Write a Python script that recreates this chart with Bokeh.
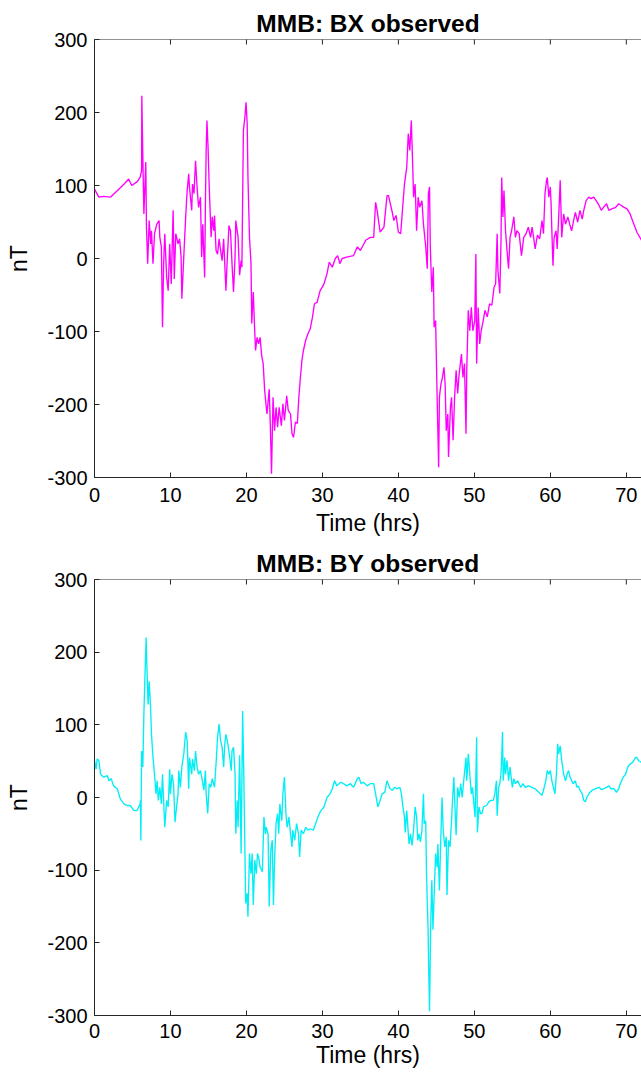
import math
from bokeh.plotting import figure
from bokeh.models import FixedTicker, Range1d, Span
from bokeh.layouts import column
from bokeh.embed import file_html
from bokeh.resources import INLINE

x_ticks = [0, 10, 20, 30, 40, 50, 60, 70]
y_ticks = [-300, -200, -100, 0, 100, 200, 300]
titles = ["MMB: BX observed", "MMB: BY observed"]
x_label = "Time (hrs)"
y_label = "nT"

bx_time = [
    0, 0.57, 1.2, 2.1, 2.5, 3.2, 3.9, 4.5, 4.9, 5.6,
    6.0, 6.2, 6.23, 6.36, 6.5, 6.75, 6.84, 7.0, 7.2, 7.4,
    7.5, 7.7, 7.9, 8.2, 8.5, 8.6, 8.8, 8.95, 9.1, 9.25,
    9.5, 9.7, 9.9, 10.1, 10.35, 10.5, 10.7, 11.0, 11.2, 11.4,
    11.5, 11.75, 12.0, 12.2, 12.4, 12.5, 12.8, 12.9, 13.1, 13.3,
    13.5, 13.7, 13.95, 14.1, 14.25, 14.5, 14.6, 14.7, 14.8, 14.95,
    15.1, 15.35, 15.5, 15.7, 15.8, 16.0, 16.2, 16.4, 16.6, 16.8,
    17.0, 17.3, 17.45, 17.7, 17.9, 18.1, 18.3, 18.5, 18.6, 18.9,
    19.1, 19.3, 19.4, 19.6, 19.8, 19.95, 20.1, 20.2, 20.4, 20.6,
    20.7, 20.9, 21.05, 21.2, 21.4, 21.6, 21.8, 22.0, 22.2, 22.4,
    22.7, 23.0, 23.15, 23.3, 23.5, 23.7, 23.9, 24.1, 24.3, 24.6,
    24.8, 25.0, 25.3, 25.5, 25.8, 26.0, 26.2, 26.45, 26.7, 26.9,
    27.1, 27.3, 27.5, 27.8, 28.1, 28.4, 28.7, 28.95, 29.3, 29.7,
    30.2, 30.6, 30.9, 31.3, 31.7, 32.0, 32.3, 32.6, 33.2, 34.1,
    34.6, 35.0, 35.7, 36.3, 36.75, 37.0, 37.2, 37.6, 38.1, 38.5,
    38.7, 39.2, 39.4, 39.7, 40.0, 40.3, 40.6, 40.8, 41.1, 41.3,
    41.5, 41.7, 41.85, 42.0, 42.2, 42.4, 42.6, 42.8, 43.1, 43.3,
    43.6, 43.8, 43.95, 44.1, 44.2, 44.4, 44.6, 44.7, 44.9, 45.1,
    45.3, 45.4, 45.6, 45.8, 46.0, 46.15, 46.3, 46.5, 46.6, 46.85,
    47.0, 47.2, 47.4, 47.6, 47.8, 48.0, 48.2, 48.3, 48.5, 48.7,
    48.9, 49.0, 49.2, 49.4, 49.6, 49.8, 50.05, 50.2, 50.3, 50.5,
    50.7, 50.9, 51.1, 51.4, 51.7, 52.0, 52.3, 52.6, 52.8, 53.0,
    53.1, 53.35, 53.5, 53.6, 53.75, 53.9, 54.1, 54.3, 54.5, 54.7,
    54.9, 55.2, 55.4, 55.6, 55.9, 56.2, 56.5, 56.8, 57.1, 57.4,
    57.6, 57.8, 58.0, 58.3, 58.6, 58.9, 59.1, 59.3, 59.5, 59.6,
    59.8, 60.0, 60.1, 60.2, 60.35, 60.5, 60.75, 60.9, 61.1, 61.3,
    61.5, 61.75, 62.0, 62.3, 62.55, 62.8, 63.1, 63.3, 63.6, 63.9,
    64.2, 64.4, 64.7, 65.05, 65.35, 65.7, 66.05, 66.4, 66.7, 67.0,
    67.4, 67.7, 68.1, 68.6, 69.0, 69.3, 69.7, 70.1, 70.5, 71.0,
    71.4, 72.0,
]
bx_nt = [
    95, 84, 85, 84, 88, 95, 102, 109, 100, 105,
    111, 120, 223, 139, 61, 132, 43, -7, 52, 20,
    38, -7, 34, 47, 52, 29, 16, -94, -7, 34,
    -26, -44, 20, -35, 66, -28, 34, 20, 27, 2,
    -55, 2, 57, 93, 116, 98, 66, 102, 89, 134,
    98, 70, 84, 2, 47, -26, 77, 148, 189, 152,
    98, 29, 57, 38, 59, 11, 6, 27, 11, -3,
    27, -44, -7, 45, 38, -7, -46, 2, 52, 29,
    -23, -3, -12, 175, 194, 214, 184, 111, 29, -7,
    -89, -46, -89, -126, -108, -117, -108, -133, -144, -181,
    -213, -179, -231, -295, -190, -236, -204, -231, -204, -229,
    -199, -222, -188, -208, -213, -240, -245, -224, -226, -190,
    -163, -140, -126, -112, -103, -96, -80, -62, -60, -44,
    -35, -21, -5, -12, 0, 4, -7, 0, 2, 4,
    16, 11, 25, 29, 29, 77, 66, 36, 43, 86,
    86, 63, 52, 59, 36, 34, 75, 102, 125, 171,
    148, 189, 139, 84, 102, 38, 84, 70, 79, 47,
    16, -14, 89, 98, 16, -46, -12, -94, -85, -190,
    -286, -190, -172, -163, -149, -172, -236, -213, -272, -204,
    -190, -249, -190, -153, -185, -158, -140, -131, -163, -144,
    -240, -153, -71, -99, -67, -99, -85, 6, -144, -67,
    -117, -99, -89, -71, -80, -62, -64, -39, -35, 34,
    -16, -48, 20, 111, 57, 93, 38, 11, -14, 29,
    38, 57, 29, 38, 34, 4, 29, 34, 43, 29,
    43, 29, 13, 32, 27, 52, 34, 89, 107, 111,
    84, 98, 75, 38, -10, 29, 38, 13, 57, 107,
    29, 61, 47, 57, 47, 38, 54, 63, 50, 66,
    54, 66, 79, 84, 82, 84, 79, 73, 66, 70,
    75, 66, 68, 70, 75, 73, 70, 68, 61, 47,
    36, 25,
]

by_time = [
    0, 0.2, 0.35, 0.57, 0.8, 1.2, 1.7, 1.9, 2.2, 2.5,
    3.0, 3.4, 3.9, 4.3, 4.7, 5.2, 5.6, 6.0, 6.05, 6.1,
    6.2, 6.36, 6.5, 6.65, 6.8, 6.9, 7.06, 7.2, 7.4, 7.5,
    7.7, 7.9, 8.1, 8.25, 8.4, 8.6, 8.8, 8.95, 9.1, 9.25,
    9.5, 9.7, 9.9, 10.0, 10.2, 10.4, 10.6, 10.8, 11.0, 11.1,
    11.3, 11.5, 11.75, 12.0, 12.2, 12.4, 12.5, 12.8, 12.9, 13.15,
    13.3, 13.5, 13.7, 13.95, 14.2, 14.4, 14.6, 14.7, 14.9, 15.1,
    15.3, 15.5, 15.8, 16.05, 16.2, 16.4, 16.6, 16.8, 17.0, 17.15,
    17.3, 17.55, 17.8, 18.0, 18.1, 18.3, 18.5, 18.6, 18.8, 18.9,
    19.1, 19.3, 19.5, 19.65, 19.9, 20.1, 20.2, 20.4, 20.6, 20.75,
    20.9, 21.1, 21.3, 21.45, 21.6, 21.8, 22.1, 22.3, 22.5, 22.6,
    22.85, 23.0, 23.2, 23.4, 23.55, 23.7, 23.9, 24.1, 24.25, 24.4,
    24.65, 24.8, 25.0, 25.2, 25.35, 25.6, 25.8, 26.0, 26.1, 26.35,
    26.6, 26.85, 27.0, 27.2, 27.5, 27.8, 28.1, 28.4, 28.8, 29.1,
    29.4, 29.8, 30.2, 30.6, 31.0, 31.3, 31.6, 31.9, 32.4, 32.8,
    33.2, 33.7, 34.1, 34.6, 34.8, 35.1, 35.4, 35.9, 36.3, 36.75,
    37.0, 37.3, 37.6, 37.85, 38.2, 38.5, 38.9, 39.2, 39.5, 39.8,
    40.2, 40.4, 40.6, 40.8, 40.9, 41.1, 41.4, 41.6, 41.8, 42.0,
    42.2, 42.4, 42.55, 42.7, 42.9, 43.1, 43.3, 43.4, 43.6, 43.7,
    43.9, 44.0, 44.1, 44.25, 44.4, 44.55, 44.7, 44.9, 45.1, 45.2,
    45.4, 45.6, 45.75, 45.9, 46.1, 46.3, 46.4, 46.6, 46.8, 47.0,
    47.1, 47.3, 47.5, 47.6, 47.8, 48.0, 48.2, 48.4, 48.6, 48.9,
    49.0, 49.2, 49.4, 49.6, 49.75, 49.9, 50.1, 50.3, 50.4, 50.6,
    50.8, 51.0, 51.2, 51.6, 51.9, 52.2, 52.5, 52.7, 52.9, 53.0,
    53.2, 53.35, 53.5, 53.6, 53.7, 53.8, 54.0, 54.1, 54.3, 54.5,
    54.7, 54.8, 55.0, 55.2, 55.4, 55.7, 56.1, 56.4, 56.7, 57.15,
    57.6, 58.0, 58.5, 58.9, 59.1, 59.4, 59.6, 59.8, 60.0, 60.2,
    60.4, 60.6, 60.8, 60.97, 61.1, 61.3, 61.5, 61.75, 62.0, 62.2,
    62.4, 62.6, 63.0, 63.3, 63.5, 63.7, 63.9, 64.2, 64.4, 64.6,
    64.8, 65.2, 65.5, 65.9, 66.4, 66.7, 67.0, 67.4, 67.7, 68.0,
    68.4, 68.7, 69.0, 69.2, 69.6, 69.9, 70.2, 70.5, 70.8, 71.0,
    71.2, 71.4, 71.6, 72.0,
]
by_nt = [
    51, 39, 53, 51, 32, 28, 30, 23, 26, 16,
    12, -2, -9, -11, -11, -18, -18, -9, -4, -59,
    64, 42, 115, 170, 220, 179, 128, 160, 119, 87,
    55, 32, 5, 23, -4, 14, -9, 32, -4, -41,
    -4, -13, 39, 5, 32, 19, -34, -13, 5, 37,
    14, 42, 60, 90, 78, 12, 55, 32, 53, 37,
    64, 42, 32, 37, 23, 10, 37, 5, -22, 19,
    14, 26, 14, 55, 83, 101, 78, 69, 42, 74,
    87, 74, 55, 37, 64, 69, 32, -50, -4, -41,
    58, -77, 119, 32, -146, -132, -164, -77, -105, -77,
    -148, -86, -105, -77, -82, -96, -102, -27, -50, -41,
    -50, -150, -73, -59, -148, -86, -36, -22, -50, -9,
    -32, 5, 28, -22, -41, -27, -50, -68, -45, -59,
    -36, -50, -82, -45, -50, -41, -45, -43, -45, -36,
    -27, -18, -13, 0, 5, 12, 23, 16, 21, 19,
    16, 19, 14, 26, 28, 19, 21, 16, 19, 19,
    5, -13, -4, 5, 7, 23, 12, 10, 14, 12,
    14, 5, -13, -27, -48, -18, -64, -50, -66, -45,
    -13, -27, -59, -50, -61, -45, 5, -36, -32, -105,
    -178, -242, -294, -178, -114, -182, -137, -77, -96, -64,
    -128, -50, 0, -45, -68, -54, -134, -59, -68, -32,
    -9, 28, -27, -52, 14, 0, 19, 0, 23, 55,
    23, 60, 32, 5, 14, -4, -27, 83, -48, -13,
    -22, -22, -13, -11, -6, -4, -4, 5, 23, -25,
    14, 19, 32, 55, 90, 23, 55, 32, 51, 23,
    42, 32, 14, 26, 19, 23, 14, 19, 14, 16,
    14, 12, 7, 3, 10, 23, 37, 32, 37, 23,
    14, 5, 32, 74, 60, 71, 51, 32, 23, 32,
    37, 28, 19, 23, 14, 16, 10, 5, -4, -6,
    0, 7, 10, 12, 14, 11, 12, 14, 16, 12,
    12, 7, 12, 19, 28, 32, 42, 46, 48, 51,
    55, 55, 51, 48,
]

FONT = "Liberation Sans"
AXIS_COLOR = "#262626"
TEXT_COLOR = "#000000"
Y_MIN, Y_MAX = -300, 300


def style_axis(ax, ticks, label_standoff, title_standoff):
    ax.ticker = FixedTicker(ticks=ticks)
    ax.major_label_overrides = {t: str(t) for t in ticks}
    ax.major_tick_in = 5
    ax.major_tick_out = 0
    ax.minor_tick_in = 0
    ax.minor_tick_out = 0
    ax.axis_line_color = AXIS_COLOR
    ax.axis_line_width = 1
    ax.major_tick_line_color = AXIS_COLOR
    ax.major_label_text_font = FONT
    ax.major_label_text_font_size = "20px"
    ax.major_label_text_color = TEXT_COLOR
    ax.major_label_standoff = label_standoff
    ax.axis_label_text_font = FONT
    ax.axis_label_text_font_size = "23px"
    ax.axis_label_text_font_style = "normal"
    ax.axis_label_text_color = TEXT_COLOR
    ax.axis_label_standoff = title_standoff


def make_panel(title, t, v, color, height, top, bottom, xl_standoff, xt_standoff):
    p = figure(width=641, height=height,
               x_range=Range1d(0, 72), y_range=Range1d(Y_MIN, Y_MAX),
               output_backend="svg", toolbar_location=None,
               min_border_left=94, min_border_right=0,
               min_border_top=top, min_border_bottom=bottom,
               x_axis_label=x_label, y_axis_label=y_label)
    p.title.text = title
    p.title.align = "center"
    p.title.text_font = FONT
    p.title.text_font_size = "24.5px"
    p.title.text_font_style = "bold"
    p.title.text_color = TEXT_COLOR
    p.title.standoff = 5
    p.xgrid.visible = False
    p.ygrid.visible = False
    p.outline_line_color = None
    p.background_fill_color = "white"
    p.border_fill_color = "white"
    style_axis(p.xaxis[0], x_ticks, xl_standoff, xt_standoff)
    style_axis(p.yaxis[0], y_ticks, 7, 12)
    # box line along the top edge with inward ticks (MATLAB "box on")
    p.add_layout(Span(location=Y_MAX, dimension="width",
                      line_color=AXIS_COLOR, line_width=1))
    p.scatter(x_ticks, [Y_MAX] * len(x_ticks), marker="dash", size=10,
              angle=math.pi / 2, line_color=AXIS_COLOR, line_width=1)
    p.line(t, v, line_color=color, line_width=1.35)
    return p


p1 = make_panel(titles[0], bx_time, bx_nt, "#FF00FF", 545, 39, 68, 10, 5)
p2 = make_panel(titles[1], by_time, by_nt, "#00EEF5", 529, 33, 59, 8, 1)
layout = column(p1, p2, spacing=0)

open("out.html", "w").write(file_html(layout, INLINE))
